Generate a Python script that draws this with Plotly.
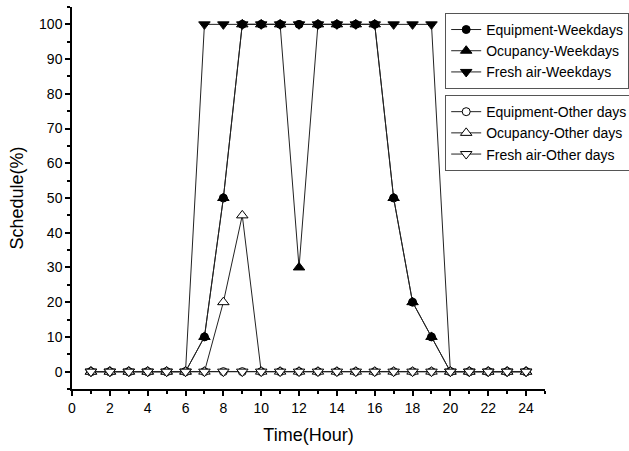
import plotly.graph_objects as go

hours = list(range(1, 25))
equip_week = [0, 0, 0, 0, 0, 0, 10, 50, 100, 100, 100, 100, 100, 100, 100, 100, 50, 20, 10, 0, 0, 0, 0, 0]
occ_week = [0, 0, 0, 0, 0, 0, 10, 50, 100, 100, 100, 30, 100, 100, 100, 100, 50, 20, 10, 0, 0, 0, 0, 0]
fresh_week = [0, 0, 0, 0, 0, 0, 100, 100, 100, 100, 100, 100, 100, 100, 100, 100, 100, 100, 100, 0, 0, 0, 0, 0]
equip_other = [0] * 24
occ_other = [0, 0, 0, 0, 0, 0, 0, 20, 45, 0, 0, 0, 0, 0, 0, 0, 0, 0, 0, 0, 0, 0, 0, 0]
fresh_other = [0] * 24

series = [
    ("Equipment-Weekdays", equip_week, "circle", 8, "black", "legend"),
    ("Ocupancy-Weekdays", occ_week, "triangle-up", 10, "black", "legend"),
    ("Fresh air-Weekdays", fresh_week, "triangle-down", 10, "black", "legend"),
    ("Equipment-Other days", equip_other, "circle", 8, "white", "legend2"),
    ("Ocupancy-Other days", occ_other, "triangle-up", 10, "white", "legend2"),
    ("Fresh air-Other days", fresh_other, "triangle-down", 10, "white", "legend2"),
]

fig = go.Figure()
for name, vals, sym, size, fill, leg in series:
    fig.add_trace(go.Scatter(
        x=hours, y=vals, name=name, mode="lines+markers",
        line=dict(color="#222", width=1),
        marker=dict(symbol=sym, size=size, color=fill, line=dict(color="black", width=1)),
        legend=leg,
    ))

legend_common = dict(
    bgcolor="white", bordercolor="#555", borderwidth=1,
    font=dict(family="Arial, Liberation Sans", size=14, color="black"),
    xanchor="left", yanchor="middle", tracegroupgap=0,
)
fig.update_layout(
    width=629, height=451,
    margin=dict(l=72, r=84, t=7, b=62, autoexpand=False),
    paper_bgcolor="white", plot_bgcolor="white",
    font=dict(family="Arial, Liberation Sans", color="black"),
    legend=dict(x=0.789, y=0.885, **legend_common),
    legend2=dict(x=0.789, y=0.670, **legend_common),
    xaxis=dict(
        range=[0, 25], tickmode="linear", tick0=0, dtick=2,
        ticks="outside", ticklen=5, tickwidth=1.5, tickcolor="black",
        minor=dict(dtick=1, ticks="outside", ticklen=3, tickwidth=1.5, tickcolor="black"),
        showline=True, linecolor="black", linewidth=1.5, showgrid=False, zeroline=False,
        tickfont=dict(size=14), title=dict(text="Time(Hour)", font=dict(size=18), standoff=14),
    ),
    yaxis=dict(
        range=[-5, 105], tickmode="linear", tick0=0, dtick=10,
        ticks="outside", ticklen=5, tickwidth=1.5, tickcolor="black",
        minor=dict(dtick=5, ticks="outside", ticklen=3, tickwidth=1.5, tickcolor="black"),
        showline=True, linecolor="black", linewidth=1.5, showgrid=False, zeroline=False,
        tickfont=dict(size=14), title=dict(text="Schedule(%)", font=dict(size=18), standoff=11),
    ),
)
fig.write_html("out.html")
